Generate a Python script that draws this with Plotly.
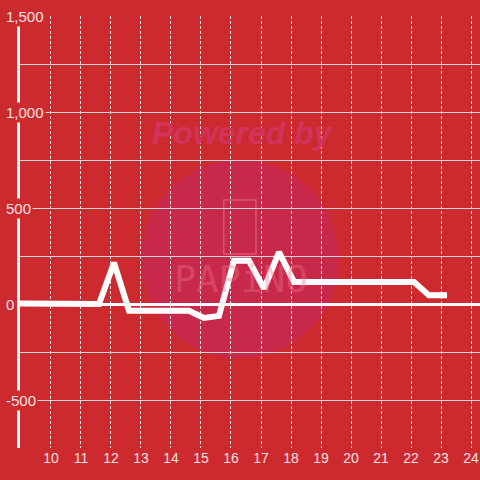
import plotly.graph_objects as go

# data
hours = [8.6, 9.1, 9.6, 10.1, 10.6, 11.1, 11.6, 12.1, 12.6, 13.1, 13.6, 14.1, 14.6,
         15.1, 15.6, 16.1, 16.6, 17.1, 17.6, 18.1, 18.6, 19.1, 19.6, 20.1, 20.6,
         21.1, 21.6, 22.1, 22.6, 23.2]
values = [3, 3, 0, 0, 0, 0, 0, 215, -35, -35, -35, -35, -35,
          -73, -62, 225, 225, 80, 270, 115, 115, 115, 115, 115, 115,
          115, 115, 115, 45, 45]

x_ticks = list(range(10, 25))
y_ticks = [-500, 0, 500, 1000, 1500]
y_labels = ["-500", "0", "500", "1,000", "1,500"]

BG = "#CD2A2F"
LABEL = "#F3E3E3"

fig = go.Figure()
fig.add_trace(go.Scatter(x=hours, y=values, mode="lines",
                         line=dict(color="white", width=6), showlegend=False,
                         hoverinfo="skip"))

# watermark circle and logo box
fig.add_shape(type="circle", xref="paper", yref="paper",
              x0=0.263, x1=0.693, y0=0.208, y1=0.667,
              fillcolor="#C8284A", line_width=0, layer="below")
fig.add_shape(type="rect", xref="paper", yref="paper",
              x0=0.443, x1=0.513, y0=0.449, y1=0.574,
              line=dict(color="rgba(235,120,140,0.55)", width=1.5),
              fillcolor="rgba(0,0,0,0)", layer="below")

fig.add_annotation(text="<b><i>Powered by</i></b>", xref="paper", yref="paper",
                   x=0.485, y=0.729, yanchor="middle", showarrow=False,
                   font=dict(family="Liberation Sans", size=32, color="#D2335A"))
fig.add_annotation(text="PAPiNO", xref="paper", yref="paper",
                   x=0.48, y=0.39, yanchor="middle", showarrow=False,
                   font=dict(family="DejaVu Sans Mono", size=37, color="rgba(235,120,140,0.4)"))

# y tick labels drawn with a background that masks axis and grid
for v, t in zip(y_ticks, y_labels):
    fig.add_annotation(text=t, xref="paper", yref="y", x=-0.034, y=v,
                       xanchor="left", yanchor="middle", showarrow=False,
                       bgcolor=BG, borderpad=1,
                       font=dict(family="Liberation Sans", size=15, color=LABEL))

fig.update_layout(
    width=480, height=480,
    paper_bgcolor=BG, plot_bgcolor=BG,
    margin=dict(l=20, r=0, t=16, b=32),
    font=dict(family="Liberation Sans", size=14, color=LABEL),
    xaxis=dict(range=[8.967, 24.3], tickvals=x_ticks, showgrid=True,
               gridcolor="#E6E6E6", griddash="3px,2px", gridwidth=1,
               zeroline=False, showline=False, ticks="", automargin=False,
               tickfont=dict(size=14, color=LABEL)),
    yaxis=dict(range=[-750, 1500], dtick=250, showticklabels=False,
               gridcolor="#D8D8D8", gridwidth=1, automargin=False,
               zeroline=True, zerolinecolor="white", zerolinewidth=3,
               showline=True, linecolor="#F4F4F4", linewidth=3),
)

fig.write_html("out.html", config={"displayModeBar": False},
               post_script="document.body.style.margin='0';")
